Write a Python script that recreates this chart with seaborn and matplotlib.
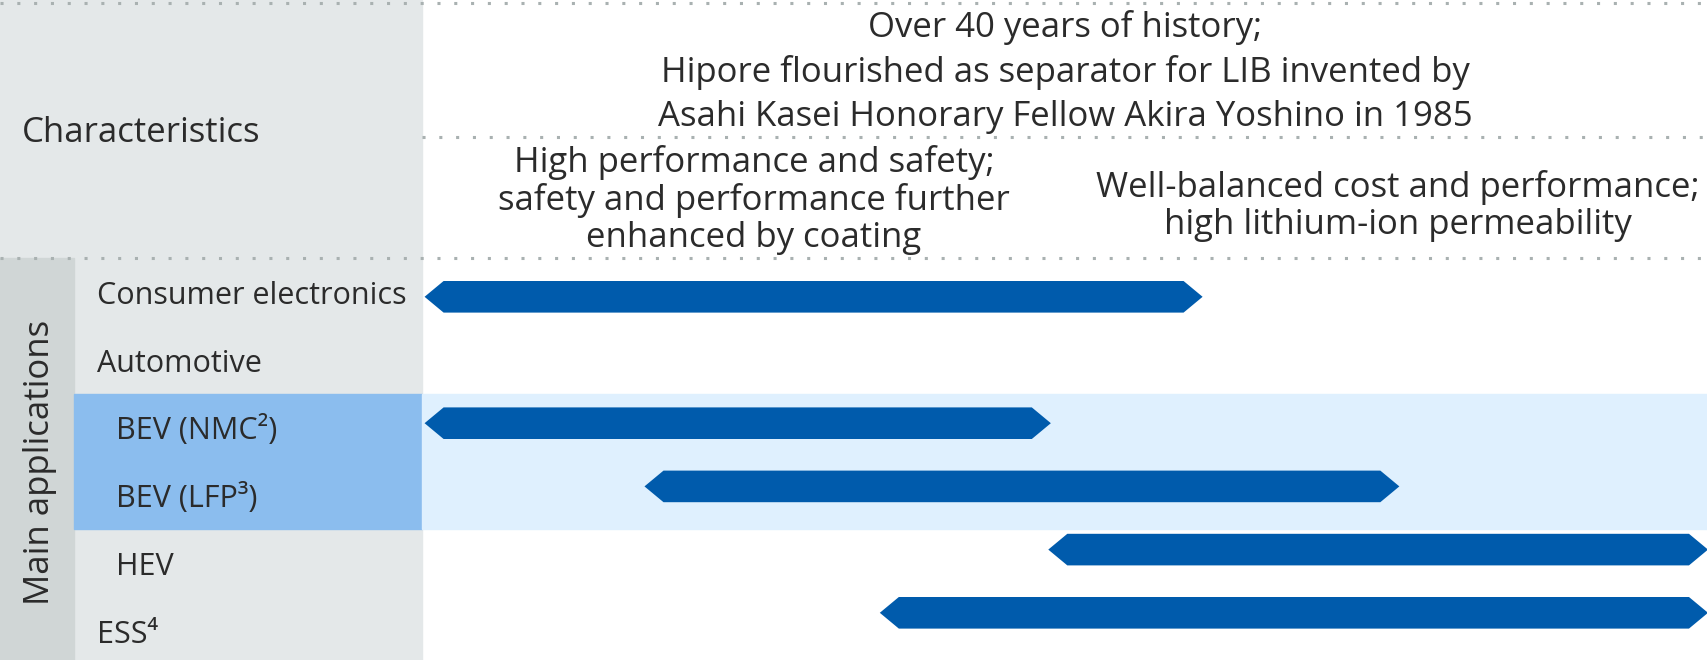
import matplotlib
matplotlib.use("Agg")
import matplotlib.pyplot as plt
from matplotlib.patches import Rectangle
import seaborn as sns

# 行（上から下へ）
applications = ["Consumer electronics", "Automotive", "BEV (NMC²)", "BEV (LFP³)", "HEV", "ESS⁴"]
indented = [False, False, True, True, True, False]
highlight_rows = ["BEV (NMC²)", "BEV (LFP³)"]

# 矢印（右パネルの 0-100 スケール上の範囲）
arrow_rows = ["Consumer electronics", "BEV (NMC²)", "BEV (LFP³)", "HEV", "ESS⁴"]
arrow_start = [0.2, 0.2, 17.3, 48.7, 35.6]
arrow_end = [60.7, 48.9, 76.0, 100.0, 100.0]

header_text = ("Over 40 years of history;\n"
               "Hipore flourished as separator for LIB invented by\n"
               "Asahi Kasei Honorary Fellow Akira Yoshino in 1985")
char_left = "High performance and safety;\nsafety and performance further\nenhanced by coating"
char_right = "Well-balanced cost and performance;\nhigh lithium-ion permeability"

# 色
GRAY = "#e4e8e9"
DARK_GRAY = "#d0d6d6"
MID_BLUE = "#8bbdee"
LIGHT_BLUE = "#dff0fe"
ARROW_BLUE = "#005bac"
TXT = "#2b2b2b"
DOT = "#a9b1b1"

sns.set_theme(style="white")
plt.rcParams['font.family'] = ['Open Sans', 'Noto Sans', 'DejaVu Sans']

W, H = 1708, 660
PANEL_X = 422      # 左パネルの幅
STRIP_X = 74       # "Main applications" の帯
TOP_Y = 258        # 表の開始位置
ROW_H = 67.8       # ラベル行の高さ
ARROW_Y0 = 296.8   # 矢印1本目の中心（px）
ARROW_PITCH = 63.2 # 矢印の行間（px）

fig = plt.figure(figsize=(W / 100, H / 100), dpi=100)
fig.patch.set_facecolor("white")

# 背景用の軸（ピクセル座標）
bg = fig.add_axes([0, 0, 1, 1])
bg.set_xlim(0, W)
bg.set_ylim(H, 0)
bg.axis("off")

bg.add_patch(Rectangle((0, 0), PANEL_X, H, color=GRAY, zorder=0))
bg.add_patch(Rectangle((0, TOP_Y), STRIP_X, H - TOP_Y, color=DARK_GRAY, zorder=0))
hl_idx = [applications.index(r) for r in highlight_rows]
y0 = TOP_Y + min(hl_idx) * ROW_H
y1 = TOP_Y + (max(hl_idx) + 1) * ROW_H
bg.add_patch(Rectangle((STRIP_X, y0), PANEL_X - STRIP_X, y1 - y0, color=MID_BLUE, zorder=1))
bg.add_patch(Rectangle((PANEL_X, y0), W - PANEL_X, y1 - y0, color=LIGHT_BLUE, zorder=1))

# 点線
dot_kw = dict(color=DOT, lw=2.2, linestyle=(0, (1, 4.5)), dash_capstyle="butt", zorder=5)
bg.plot([0, W], [3, 3], **dot_kw)
bg.plot([PANEL_X, W], [137, 137], **dot_kw)
bg.plot([0, W], [TOP_Y, TOP_Y], **dot_kw)

# 見出しテキスト
bg.text(22, 133, "Characteristics", ha="left", va="center", fontsize=25, color=TXT)
bg.text((PANEL_X + W) / 2, 72, header_text, ha="center", va="center",
        fontsize=25, color=TXT, linespacing=1.36)
bg.text(754, 200, char_left, ha="center", va="center", fontsize=25, color=TXT, linespacing=1.1)
bg.text(1398, 206, char_right, ha="center", va="center", fontsize=25, color=TXT, linespacing=1.1)

bg.text(40, 462, "Main applications", rotation=90, ha="center", va="center",
        fontsize=25, color=TXT)

for i, (label, ind) in enumerate(zip(applications, indented)):
    x = 116 if ind else 97
    bg.text(x, TOP_Y + (i + 0.5) * ROW_H + 12, label, ha="left", va="baseline",
            fontsize=22, color=TXT, zorder=3)

# 右側のチャート軸（矢印用）
ax = fig.add_axes([PANEL_X / W, 0, (W - PANEL_X) / W, (H - TOP_Y) / H])
ax.patch.set_alpha(0)
ax.set_xlim(0, 100)
ax.set_ylim((H - ARROW_Y0) / ARROW_PITCH, (TOP_Y - ARROW_Y0) / ARROW_PITCH)
ax.axis("off")

half_h = 0.25
tip = 1.48
for name, xs, xe in zip(arrow_rows, arrow_start, arrow_end):
    yc = applications.index(name)
    px = [xs, xs + tip, xe - tip, xe, xe - tip, xs + tip]
    py = [yc, yc - half_h, yc - half_h, yc, yc + half_h, yc + half_h]
    ax.fill(px, py, color=ARROW_BLUE, lw=0, zorder=3)

fig.savefig("out.png", dpi=100)
plt.close(fig)
